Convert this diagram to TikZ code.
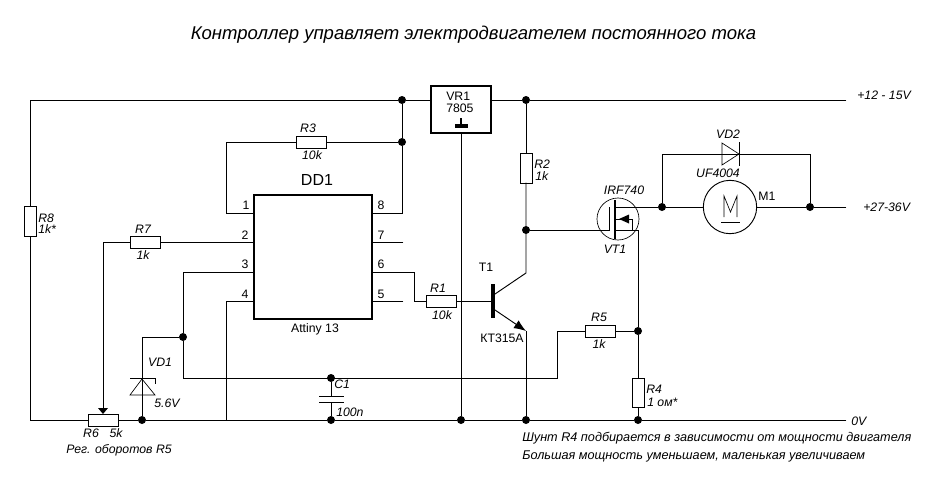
\documentclass[tikz,border=0pt]{standalone}
\usepackage{fontspec}
\setmainfont{Liberation Sans}
\usetikzlibrary{arrows.meta,calc}
\tikzset{
  wire/.style={line width=0.7pt,line cap=rect},
  hres/.style={draw,line width=0.7pt,fill=white,minimum width=22.5pt,minimum height=9pt,inner sep=0pt,outer sep=0pt},
  vres/.style={draw,line width=0.7pt,fill=white,minimum width=9pt,minimum height=22pt,inner sep=0pt,outer sep=0pt},
  dot/.style={circle,fill=black,minimum size=6pt,inner sep=0pt,outer sep=0pt},
  lbl/.style={font=\fontsize{9.2pt}{10pt}\selectfont\itshape,inner sep=0pt},
  up/.style={font=\fontsize{9.2pt}{10pt}\selectfont,inner sep=0pt},
  note/.style={font=\fontsize{9.5pt}{10pt}\selectfont\itshape,inner sep=0pt,anchor=west},
}
\begin{document}
\begin{tikzpicture}[x=0.75pt,y=-0.75pt]
\useasboundingbox (0,0) rectangle (936,487);
% free ends and corners
\coordinate (tl) at (30,100);
\coordinate (tr) at (846,100);
\coordinate (bl) at (30,420);
\coordinate (br) at (846,420);
\coordinate (mr) at (846,207);
% junctions
\node[dot] (jt1) at (402,100) {};
\node[dot] (jt2) at (526,100) {};
\node[dot] (j3) at (402,142) {};
\node[dot] (jb1) at (142,420) {};
\node[dot] (jb2) at (331,420) {};
\node[dot] (jb3) at (461,420) {};
\node[dot] (jb4) at (526,420) {};
\node[dot] (jb5) at (638,420) {};
\node[dot] (jz) at (183,337) {};
\node[dot] (jc) at (331,378) {};
\node[dot] (jg) at (526,230) {};
\node[dot] (jr5) at (638,331) {};
\node[dot] (jd) at (662,207) {};
\node[dot] (jm) at (810,207) {};
% components
\node[draw,line width=1.5pt,minimum width=88.5pt,minimum height=93pt,inner sep=0pt,outer sep=0pt] (dd) at (313,257) {};
\node[draw,line width=1.5pt,minimum width=45pt,minimum height=35pt,inner sep=0pt,outer sep=0pt] (vr) at (461,109.5) {};
\node[hres] (R3) at (311,142) {};
\node[hres] (R7) at (145,242) {};
\node[hres] (R1) at (441,301) {};
\node[hres] (R5) at (600,331) {};
\node[hres,minimum width=22pt] (R6) at (103.5,420) {};
\node[vres] (R8) at (30,221.5) {};
\node[vres] (R2) at (526,168.5) {};
\node[vres] (R4) at (638,393) {};
\node[circle,draw,line width=0.7pt,minimum size=40pt,inner sep=0pt,outer sep=0pt] (M) at (730,207) {};
\node[circle,draw,line width=0.5pt,minimum size=31.5pt,inner sep=0pt,outer sep=0pt] (Q) at (618,219) {};
% pin points
\coordinate (p1) at (254,213); \coordinate (p2) at (254,242);
\coordinate (p3) at (254,272); \coordinate (p4) at (254,301);
\coordinate (p8) at (372,213); \coordinate (p7) at (372,242);
\coordinate (p6) at (372,272); \coordinate (p5) at (372,301);
\coordinate (p7e) at (403,242); \coordinate (p5e) at (403,301);
% transistor points
\coordinate (tb) at (491,301);
\coordinate (tc) at (495,294);
\coordinate (te) at (495,310);
\coordinate (tcw) at (526,273);
\coordinate (tew) at (526,331);
% rails
\draw[wire] (R8.north) -- (tl) -- (jt1) -- (vr.west |- jt1);
\draw[wire] (vr.east |- jt2) -- (jt2) -- (tr);
\draw[wire] (R8.south) -- (bl) -- (R6.west);
\draw[wire] (R6.east) -- (jb1) -- (jb2) -- (jb3) -- (jb4) -- (jb5) -- (br);
\draw[wire] (jt1) -- (j3) -- (402,213) -- (p8);
\draw[wire] (j3) -- (R3.east);
\draw[wire] (R3.west) -- (226,142) -- (226,213) -- (p1);
\draw[wire] (p7) -- (p7e);
\draw[wire] (p5) -- (p5e);
\draw[wire] (p6) -- (414,272) -- (414,301) -- (R1.west);
\draw[wire] (R1.east) -- (tb);
\draw[wire] (p2) -- (R7.east);
\draw[wire] (R7.west) -- (103,242) -- (103,409);
\fill (103,414) -- (98,408) -- (108,408) -- cycle;
\draw[wire] (p3) -- (183,272) -- (jz) -- (183,378) -- (557,378) -- (557,331) -- (R5.west);
\draw[wire] (R5.east) -- (jr5);
\draw[wire] (p4) -- (226,301) -- (226,420);
\draw[wire] (jz) -- (142,337) -- (jb1);
% zener
\draw[line width=0.5pt] (142,379) -- (130,395) -- (155,395) -- cycle;
\draw[line width=0.7pt] (130,378.5) -- (155,378.5) -- (155,384);
% cap
\draw[wire] (jc) -- (331,396);
\draw[wire] (331,402) -- (jb2);
\draw[line width=0.7pt] (319,396) -- (344,396);
\draw[line width=0.7pt] (319,402) -- (344,402);
% VR1 ground
\draw[wire] (461,133) -- (jb3);
\fill (455,124) rectangle (468,128);
\draw[line width=1.2pt] (461,118) -- (461,124);
% right branch
\draw[wire] (jt2) -- (R2.north);
\draw[wire] (R2.south) -- (jg) -- (tcw) -- (tc);
\draw[wire] (tew) -- (jb4);
\draw[wire,-{Latex[length=9pt,width=7pt]}] (te) -- (tew);
\fill (491,284) rectangle (495,318);
% MOSFET
\draw[wire] (jg) -- (609,230) -- (609,207);
\draw[line width=0.9pt] (615,200) -- (615,239);
\draw[wire] (615,207) -- (jd);
\draw[wire] (615,230) -- (638,230) -- (jr5) -- (R4.north);
\draw[wire] (R4.south) -- (jb5);
\draw[wire] (632,230) -- (632,219) -- (628,219);
\fill (619,219) -- (629,214.5) -- (629,223.5) -- cycle;
\draw[wire] (615,219) -- (622,219);
% motor and diode
\draw[wire] (jd) -- (M.west);
\draw[wire] (M.east) -- (jm) -- (mr);
\draw[wire] (jd) -- (662,154) -- (810,154) -- (jm);
\fill[white] (722,143) rectangle (739,165);
\draw[line width=0.5pt] (722,143) -- (739,154) -- (722,165) -- cycle;
\draw[wire] (662,154) -- (739,154);
\draw[line width=0.7pt] (739.5,142) -- (739.5,166);
\draw[line width=0.5pt] (724,217) -- (724,196) -- (730.5,212) -- (737,196) -- (737,217);
\draw[line width=0.7pt] (721,222) -- (740,222);
% labels
\node[font=\fontsize{13.9pt}{15pt}\selectfont\itshape,inner sep=0pt] (title) at (473.5,35) {Контроллер управляет электродвигателем постоянного тока};
\node[font=\fontsize{12pt}{14pt}\selectfont,inner sep=0pt] (tdd) at (317,180) {DD1};
\node[up] (tatt) at (315,329) {Attiny 13};
\node[up,anchor=west] (tvr1) at (446,96) {VR1};
\node[up,anchor=west] (tvr2) at (446,108) {7805};
\node[up] (n1) at (246,205) {1};
\node[up] (n2) at (245,235) {2};
\node[up] (n3) at (245,264) {3};
\node[up] (n4) at (245,294) {4};
\node[up] (n8) at (381,205) {8};
\node[up] (n7) at (381,235) {7};
\node[up] (n6) at (381,264) {6};
\node[up] (n5) at (381,294) {5};
\node[lbl] (lR3) at (308,128) {R3};
\node[lbl] (vR3) at (312,155) {10k};
\node[lbl] (lR7) at (143,229) {R7};
\node[lbl] (vR7) at (143,255) {1k};
\node[lbl] (lR1) at (438,288) {R1};
\node[lbl] (vR1) at (442,315) {10k};
\node[lbl] (lR5) at (599,317) {R5};
\node[lbl] (vR5) at (599,344) {1k};
\node[lbl,anchor=west] (lR8) at (38,218) {R8};
\node[lbl,anchor=west] (vR8) at (38,229) {1k*};
\node[lbl,anchor=west] (lR2) at (534,164) {R2};
\node[lbl,anchor=west] (vR2) at (535,176) {1k};
\node[lbl,anchor=west] (lR4) at (646,389) {R4};
\node[lbl,anchor=west] (vR4) at (647,402) {1 ом*};
\node[lbl] (lR6) at (91,433) {R6};
\node[lbl] (vR6) at (116,433) {5k};
\node[lbl,anchor=west] (lreg) at (66,450) {Рег. оборотов R5};
\node[lbl] (lVD1) at (160,362) {VD1};
\node[lbl] (vVD1) at (167,403) {5.6V};
\node[lbl,anchor=west] (lC1) at (334,384) {C1};
\node[lbl,anchor=west] (vC1) at (336,412) {100n};
\node[up] (lT1) at (486,267) {T1};
\node[up] (vT1) at (502,338) {КТ315А};
\node[lbl] (lQ) at (624,190) {IRF740};
\node[lbl] (vQ) at (615,249) {VT1};
\node[lbl] (lVD2) at (728,134) {VD2};
\node[lbl] (vVD2) at (718,173) {UF4004};
\node[up] (lM) at (767,196) {M1};
\node[lbl,anchor=west] (t12) at (857,95) {+12 - 15V};
\node[lbl,anchor=west] (t27) at (863,207) {+27-36V};
\node[lbl,anchor=west] (t0) at (851,421) {0V};
\node[note] (nt1) at (522,438) {Шунт R4 подбирается в зависимости от мощности двигателя};
\node[note] (nt2) at (522,456) {Большая мощность уменьшаем, маленькая увеличиваем};
\end{tikzpicture}
\end{document}
